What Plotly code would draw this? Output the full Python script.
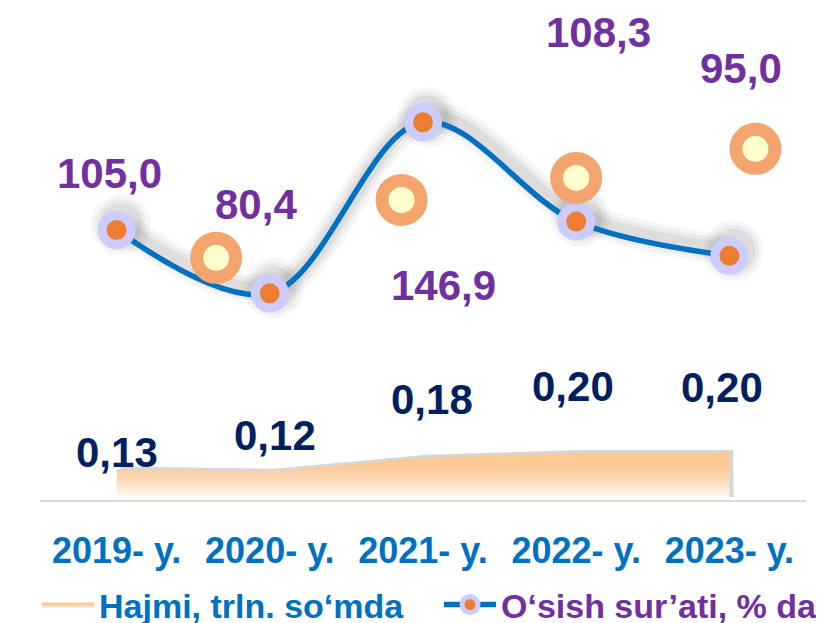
import plotly.graph_objects as go

years = ["2019- y.", "2020- y.", "2021- y.", "2022- y.", "2023- y."]
hajmi = [0.13, 0.12, 0.18, 0.20, 0.20]
hajmi_labels = ["0,13", "0,12", "0,18", "0,20", "0,20"]
osish = [105.0, 80.4, 146.9, 108.3, 95.0]
osish_labels = ["105,0", "80,4", "146,9", "108,3", "95,0"]
# decorative rings (estimated positions on the growth axis)
deco_x = [-0.52, 0.65, 1.86, 3.00, 4.17]
deco_y = [79.4, 94.2, 116.7, 125.3, 136.6]

# label offsets in pixels (x right, y up)
osish_dx = [-7, -14, 20, 22, 12]
osish_dy = [57, 89, -163, 189, 187]
hajmi_dx = [0, 5, 9, -3, -7]
hajmi_dy = [17, 36, 58, 67, 66]

FONT = "Liberation Sans, Arial, sans-serif"
BLUE = "#0070C0"
PURPLE = "#7030A0"
NAVY = "#002060"

xs = list(range(len(years)))

# page body has an 8px margin, so the figure is sized to the visible area
W, H = 816, 615
ML, MR, MT, MB = 32, 18, 2, 123
pw = W - ML - MR
ph = H - MT - MB
X_RANGE = [-0.5, len(years) - 0.5]
Y_MAX = 190.6
Y2_MAX = 2.085
px_per_x = pw / (X_RANGE[1] - X_RANGE[0])
px_per_y = ph / Y_MAX
px_per_y2 = ph / Y2_MAX

sx = 4 / px_per_x      # shadow shift right (px -> data)
sy = 5 / px_per_y      # line shadow shift up
sy2 = 3 / px_per_y2    # area shadow shift up

fig = go.Figure()

# line glow / shadow (base subplot, drawn first)
for w, c in [(30, "rgba(0,0,0,0.035)"), (22, "rgba(0,0,0,0.045)"), (14, "rgba(0,0,0,0.06)")]:
    fig.add_trace(go.Scatter(
        x=xs, y=osish, xaxis="x", yaxis="y", mode="lines+markers",
        line=dict(width=w, color=c, shape="spline"),
        marker=dict(size=30 + w, color=c),
        showlegend=False, hoverinfo="skip"))

# area shadow
fig.add_trace(go.Scatter(
    x=xs, y=hajmi, xaxis="x", yaxis="y4", mode="lines", fill="tozeroy",
    line=dict(width=0, color="rgba(0,0,0,0)"), fillcolor="rgba(0,0,0,0.16)",
    showlegend=False, hoverinfo="skip"))

# area series
fig.add_trace(go.Scatter(
    x=xs, y=hajmi, xaxis="x2", yaxis="y2", mode="lines", fill="tozeroy",
    name="Hajmi, trln. so‘mda", legend="legend",
    line=dict(width=0, color="#FCC894"),
    fillcolor="#FCC894",
    fillgradient=dict(type="vertical", start=0, stop=max(hajmi),
                      colorscale=[[0, "#FFFFFF"], [0.4, "#FDDCBA"], [0.7, "#FCCA97"], [1, "#FCC894"]]),
    hoverinfo="skip"))

# growth line
fig.add_trace(go.Scatter(
    x=xs, y=osish, xaxis="x2", yaxis="y3", mode="lines+markers",
    name="O‘sish sur’ati, % da", legend="legend2",
    line=dict(width=5.5, color=BLUE, shape="spline"),
    marker=dict(size=29, color="#ED7D31", line=dict(color="#CCCCFF", width=9)),
    hoverinfo="skip"))

# decorative rings
fig.add_trace(go.Scatter(
    x=deco_x, y=deco_y, xaxis="x2", yaxis="y3", mode="markers", cliponaxis=False,
    marker=dict(size=39, color="#FFFFCC", line=dict(color="#F4A56E", width=13)),
    showlegend=False, hoverinfo="skip"))

ann = []
for i in range(len(years)):
    ann.append(dict(x=xs[i], y=osish[i], xref="x2", yref="y3", text=osish_labels[i],
                    showarrow=False, xshift=osish_dx[i], yshift=osish_dy[i],
                    font=dict(family=FONT, size=42, color=PURPLE, weight="bold")))
    ann.append(dict(x=xs[i], y=hajmi[i], xref="x2", yref="y2", text=hajmi_labels[i],
                    showarrow=False, xshift=hajmi_dx[i], yshift=hajmi_dy[i],
                    font=dict(family=FONT, size=42, color=NAVY, weight="bold")))

LEG_Y = 0.0765
fig.update_layout(
    width=W, height=H,
    margin=dict(l=ML, r=MR, t=MT, b=MB, autoexpand=False),
    paper_bgcolor="white", plot_bgcolor="white",
    font=dict(family=FONT),
    showlegend=True,
    legend=dict(orientation="h", x=29 / W, xanchor="left", xref="container",
                y=LEG_Y, yanchor="top", yref="container",
                font=dict(family=FONT, size=34, weight="bold", color=BLUE),
                bgcolor="rgba(0,0,0,0)", itemwidth=52),
    legend2=dict(orientation="h", x=431 / W, xanchor="left", xref="container",
                 y=LEG_Y, yanchor="top", yref="container",
                 font=dict(family=FONT, size=34, weight="bold", color=PURPLE),
                 bgcolor="rgba(0,0,0,0)", itemwidth=52),
    xaxis=dict(range=[X_RANGE[0] - sx, X_RANGE[1] - sx], visible=False),
    yaxis=dict(range=[-sy, Y_MAX - sy], visible=False),
    xaxis2=dict(range=X_RANGE, overlaying="x", anchor="y", side="bottom",
                tickvals=xs, ticktext=years, showgrid=False, automargin=False,
                zeroline=False, showline=True, linecolor="#D9D9D9", linewidth=2,
                ticks="", ticklabelstandoff=18,
                tickfont=dict(family=FONT, size=36, color=BLUE, weight="bold")),
    yaxis2=dict(range=[0, Y2_MAX], overlaying="y", visible=False),
    yaxis3=dict(range=[0, Y_MAX], overlaying="y", visible=False),
    yaxis4=dict(range=[-sy2, Y2_MAX - sy2], overlaying="y", visible=False),
    annotations=ann,
)

fig.write_html("out.html")
